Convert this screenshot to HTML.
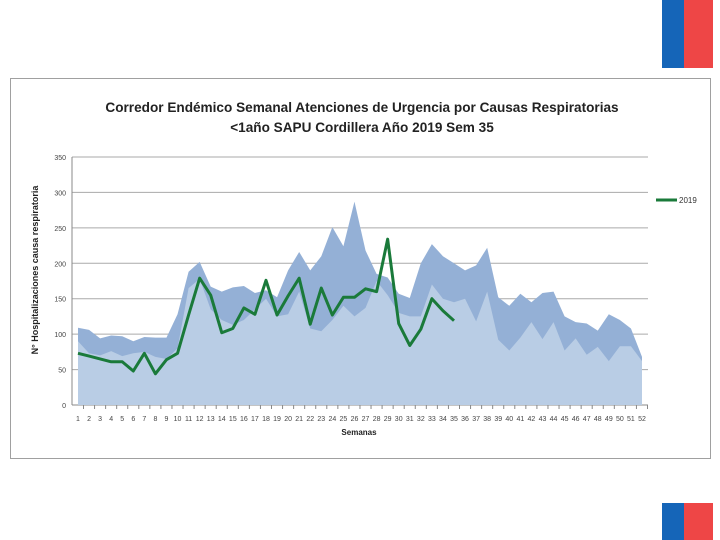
<!DOCTYPE html>
<html><head><meta charset="utf-8"><style>
body{margin:0;width:720px;height:540px;background:#fff;position:relative;overflow:hidden;font-family:"Liberation Sans",sans-serif}
.abs{position:absolute}
</style></head><body>
<div class="abs" style="left:662px;top:0;width:51px;height:68px">
<div class="abs" style="left:0;top:0;width:22px;height:68px;background:#1565b8"></div>
<div class="abs" style="left:22px;top:0;width:29px;height:68px;background:#ee4646"></div></div>
<div class="abs" style="left:662px;top:503px;width:51px;height:37px">
<div class="abs" style="left:0;top:0;width:22px;height:37px;background:#1565b8"></div>
<div class="abs" style="left:22px;top:0;width:29px;height:37px;background:#ee4646"></div></div>
<div class="abs" style="left:10px;top:78px;width:701px;height:381px;border:1px solid #a0a0a0;box-sizing:border-box"></div>
<svg id="chart" class="abs" style="left:0;top:0" width="720" height="540">
<text x="362" y="112" text-anchor="middle" font-size="13.6" font-weight="bold" fill="#222">Corredor Endémico Semanal Atenciones de Urgencia por Causas Respiratorias</text>
<text x="362" y="132" text-anchor="middle" font-size="13.6" font-weight="bold" fill="#222">&lt;1año  SAPU Cordillera  Año 2019 Sem 35</text>
<text transform="translate(38,270) rotate(-90)" text-anchor="middle" font-size="9" font-weight="bold" fill="#222">N° Hospitalizaciones causa respiratoria</text>
<text x="359" y="435" text-anchor="middle" font-size="8" font-weight="bold" fill="#222">Semanas</text>
<g id="grid"></g><g id="areas"></g><g id="line"></g><g id="axes"></g>
<line x1="656" y1="200" x2="677" y2="200" stroke="#1a7a3a" stroke-width="3"/>
<text x="679" y="203" font-size="8" fill="#333">2019</text>
</svg>
<script>
const weeks=Array.from({length:52},(_,i)=>i+1);
const upperBand=[109,106,94,98,97,90,96,95,95,128,188,202,167,160,166,168,158,162,152,190,216,190,210,251,224,287,218,185,180,157,151,200,227,210,200,190,197,222,152,140,157,145,158,160,125,117,115,105,128,120,108,68];
const lowerBand=[90,73,70,76,69,73,75,68,65,80,165,178,135,120,113,120,135,150,125,128,160,108,104,120,140,125,137,175,155,130,125,125,170,150,145,150,118,160,92,77,95,117,93,117,77,94,71,82,62,83,83,62];
const series2019=[73,69,65,61,61,48,73,44,64,73,127,179,155,102,108,137,128,176,127,154,179,114,165,127,152,152,164,160,234,115,84,107,150,133,119];
const yTicks=[0,50,100,150,200,250,300,350];
const NS='http://www.w3.org/2000/svg';
const X0=72,X1=648;
const xs=w=>78+(w-1)*(642-78)/51;
const ys=v=>405-v*(248/350);
function mk(tag,attrs,parent){const e=document.createElementNS(NS,tag);for(const k in attrs)e.setAttribute(k,attrs[k]);document.getElementById(parent).appendChild(e);return e;}
yTicks.forEach(t=>{
 const g=mk('line',{x1:X0,x2:X1,y1:ys(t),y2:ys(t),stroke:t===0?'#888':'#aaa','stroke-width':1},'grid');
 
 
 const l=mk('text',{x:X0-6,y:ys(t)+3,'text-anchor':'end','font-size':7,fill:'#444'},'axes');
 l.textContent=t;
 
 
});
function areaPath(vals){let d='M'+xs(1)+','+ys(0);vals.forEach((v,i)=>d+=' L'+xs(i+1)+','+ys(v));d+=' L'+xs(vals.length)+','+ys(0)+' Z';return d;}
const up=mk('path',{d:areaPath(upperBand),fill:'#94b0d6'},'areas');


const lo=mk('path',{d:areaPath(lowerBand),fill:'#b9cde5'},'areas');


const ln=mk('polyline',{points:series2019.map((v,i)=>xs(i+1)+','+ys(v)).join(' '),fill:'none',stroke:'#1a7a3a','stroke-width':3,'stroke-linejoin':'round'},'line');


const ax=mk('line',{x1:X0,x2:X0,y1:ys(350),y2:ys(0),stroke:'#888'},'axes');


weeks.forEach(w=>{
 const t=mk('text',{x:xs(w),y:421,'text-anchor':'middle','font-size':7,fill:'#444'},'axes');
 t.textContent=w;
 
 
 mk('line',{x1:xs(w)+5.5,x2:xs(w)+5.5,y1:405,y2:409,stroke:'#888'},'axes');
});
</script>
</body></html>
